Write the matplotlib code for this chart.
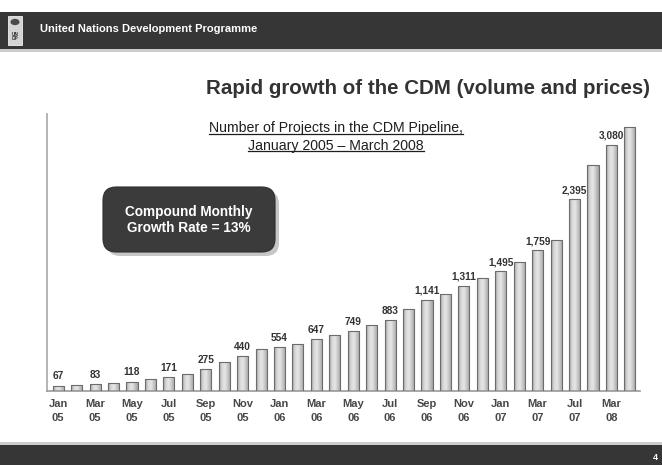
import matplotlib
matplotlib.use("Agg")
import matplotlib.pyplot as plt
import numpy as np
from matplotlib.patches import Rectangle, FancyBboxPatch, Circle
from matplotlib.lines import Line2D
from matplotlib.colors import LinearSegmentedColormap

plt.rcParams['font.family'] = ['Liberation Sans', 'DejaVu Sans']

# Number of projects in the CDM pipeline, one bar per reporting period
projects = [67, 72, 83, 100, 118, 152, 171, 217, 275, 358, 440, 524, 554, 586,
            647, 694, 749, 821, 883, 1030, 1141, 1211, 1311, 1410, 1495, 1608,
            1759, 1887, 2395, 2830, 3080, 3300]
# Labels shown under every second bar
period_labels = ["Jan\n05", "Mar\n05", "May\n05", "Jul\n05", "Sep\n05", "Nov\n05",
                 "Jan\n06", "Mar\n06", "May\n06", "Jul\n06", "Sep\n06", "Nov\n06",
                 "Jan\n07", "Mar\n07", "Jul\n07", "Mar\n08"]

W, H = 662, 465
fig = plt.figure(figsize=(W / 100, H / 100), dpi=100)
fig.patch.set_facecolor("white")


def fx(x):
    return x / W


def fy(y):
    return 1 - y / H


# ---- header banner ----
fig.patches.append(Rectangle((0, fy(49)), 1, (49 - 12) / H, transform=fig.transFigure,
                             facecolor="#363636", edgecolor="none", zorder=0))
fig.patches.append(Rectangle((0, fy(52)), 1, 3 / H, transform=fig.transFigure,
                             facecolor="#cccccc", edgecolor="none", zorder=0))
# small logo
fig.patches.append(Rectangle((fx(8), fy(45)), 14 / W, 29 / H, transform=fig.transFigure,
                             facecolor="#d4d4d4", edgecolor="#f0f0f0", lw=0.6, zorder=1))
fig.patches.append(Circle((fx(15), fy(22)), 4.5 / W, transform=fig.transFigure,
                          facecolor="#4a4a4a", edgecolor="none", zorder=2))
fig.text(fx(15), fy(36.5), "UN\nDP", fontsize=3.4, color="#333333", ha="center",
         va="center", linespacing=1.0, fontweight="bold")
fig.text(fx(40), fy(29.5), "United Nations Development Programme", fontsize=8.0,
         color="white", fontweight="bold", ha="left", va="center")

# ---- footer band ----
fig.patches.append(Rectangle((0, 0), 1, (H - 445) / H, transform=fig.transFigure,
                             facecolor="#363636", edgecolor="none", zorder=0))
fig.patches.append(Rectangle((0, fy(445)), 1, 3 / H, transform=fig.transFigure,
                             facecolor="#cccccc", edgecolor="none", zorder=0))
fig.text(fx(655), fy(457), "4", fontsize=6.5, color="white", fontweight="bold",
         ha="center", va="center")

# ---- titles ----
fig.text(fx(650), fy(88), "Rapid growth of the CDM (volume and prices)", fontsize=14.8,
         color="#333333", fontweight="bold", ha="right", va="center")
sub1 = fig.text(fx(336), fy(128), "Number of Projects in the CDM Pipeline,", fontsize=10.2,
                color="#1e1e1e", ha="center", va="center")
sub2 = fig.text(fx(336), fy(145.5), "January 2005 \u2013 March 2008", fontsize=10.2,
                color="#1e1e1e", ha="center", va="center")

# ---- bar chart ----
ax_left, ax_right, ax_top, ax_bottom = 47, 640, 114, 391
ax = fig.add_axes([fx(ax_left), fy(ax_bottom), (ax_right - ax_left) / W,
                   (ax_bottom - ax_top) / H])
x = np.arange(len(projects))

bars = ax.bar(x, projects, width=0.6, facecolor="#c8c8c8", edgecolor="#6c6c6c",
              linewidth=0.8, zorder=2)

# cylinder-like shading inside each bar
shade = LinearSegmentedColormap.from_list(
    "shade", ["#9e9e9e", "#d8d8d8", "#e6e6e6", "#c6c6c6", "#a2a2a2"])
grad = np.linspace(0, 1, 64).reshape(1, -1)
for b in bars:
    x0, w, h = b.get_x(), b.get_width(), b.get_height()
    im = ax.imshow(grad, extent=[x0, x0 + w, 0, h], cmap=shade, aspect="auto",
                   zorder=2.5, interpolation="bilinear")
    im.set_clip_path(b)
    b.set_facecolor("none")
    b.set_zorder(3)
ax.set_xlim(-0.61, 31.55)
ax.set_ylim(0, 3462)

# value labels over every second bar
for i in range(0, len(projects), 2):
    ax.annotate(f"{projects[i]:,}", (x[i], projects[i]), xytext=(0, 3),
                textcoords="offset points", ha="center", va="bottom",
                fontsize=7.3, color="#333333", fontweight="bold")

ax.set_xticks(x[::2])
ax.set_xticklabels(period_labels, fontsize=8.0, color="#474747", fontweight="bold",
                   linespacing=1.4)
ax.tick_params(axis="x", length=0, pad=6)
ax.set_yticks([])
for s in ("top", "right"):
    ax.spines[s].set_visible(False)
ax.spines["left"].set_color("#a8a8a8")
ax.spines["left"].set_linewidth(1.2)
ax.spines["bottom"].set_color("#9a9a9a")
ax.spines["bottom"].set_linewidth(1.2)
ax.patch.set_alpha(0)

# ---- growth-rate callout ----
bx0, by0, bx1, by1 = 103, 187, 275, 252
fig.patches.append(FancyBboxPatch((fx(bx0 + 4), fy(by1 + 4)), (bx1 - bx0) / W, (by1 - by0) / H,
                                  boxstyle="round,pad=0,rounding_size=0.02",
                                  transform=fig.transFigure, facecolor="#a0a0a0",
                                  edgecolor="none", alpha=0.6, zorder=4,
                                  mutation_aspect=W / H))
fig.patches.append(FancyBboxPatch((fx(bx0), fy(by1)), (bx1 - bx0) / W, (by1 - by0) / H,
                                  boxstyle="round,pad=0,rounding_size=0.02",
                                  transform=fig.transFigure, facecolor="#3b3b3b",
                                  edgecolor="#2e2e2e", lw=0.8, zorder=5,
                                  mutation_aspect=W / H))
fig.text(fx((bx0 + bx1) / 2), fy(220), "Compound Monthly\nGrowth Rate = 13%",
         fontsize=9.8, color="white", fontweight="bold", ha="center", va="center",
         linespacing=1.15, zorder=6)

# underline the chart subtitle
fig.canvas.draw()
renderer = fig.canvas.get_renderer()
for t in (sub1, sub2):
    bb = t.get_window_extent(renderer)
    fig.lines.append(Line2D([bb.x0 / W, bb.x1 / W], [(bb.y0 + 1) / H, (bb.y0 + 1) / H],
                            transform=fig.transFigure, color="#1e1e1e", lw=0.9))

fig.savefig("out.png", dpi=100, facecolor="white")
